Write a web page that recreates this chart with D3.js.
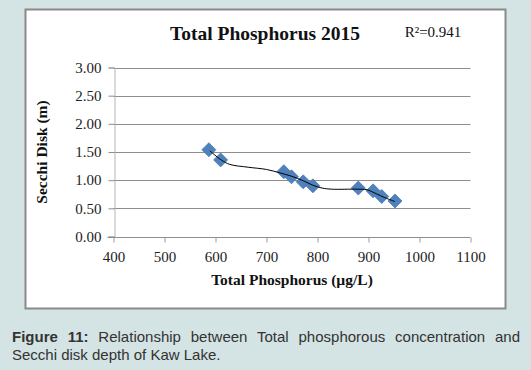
<!DOCTYPE html>
<html><head><meta charset="utf-8">
<script src="https://cdn.jsdelivr.net/npm/d3@7"></script>
<style>
html,body{margin:0;padding:0;background:#d4e3e3;}
#wrap{position:relative;width:531px;height:370px;overflow:hidden;}
.cap{position:absolute;left:12px;width:508px;font-family:"Liberation Sans",Arial,sans-serif;font-size:15px;line-height:17px;color:#333;white-space:nowrap;}
#cap1{top:328px;text-align:justify;text-align-last:justify;white-space:normal;}
#cap2{top:346px;text-align:left;}
.cap b{font-weight:bold;}
</style></head>
<body><div id="wrap"><svg id="chart" width="531" height="370"></svg>
<div class="cap" id="cap1"><b>Figure 11:</b> Relationship between Total phosphorous concentration and</div>
<div class="cap" id="cap2">Secchi disk depth of Kaw Lake.</div></div>
<script>
const tpValues = [587, 610, 734, 749, 772, 791, 880, 909, 926, 952];
const secchiValues = [1.54, 1.36, 1.15, 1.06, 0.97, 0.90, 0.86, 0.81, 0.71, 0.63];
const trendX = [589, 611, 628, 664, 700, 726, 749, 772, 791, 809, 828, 879, 897, 915, 932, 952];
const trendY = [1.52, 1.36, 1.28, 1.23, 1.19, 1.13, 1.07, 0.99, 0.91, 0.86, 0.84, 0.84, 0.83, 0.76, 0.69, 0.62];
const xTicks = [400, 500, 600, 700, 800, 900, 1000, 1100];
const yTicks = [0, 0.5, 1.0, 1.5, 2.0, 2.5, 3.0];
const title = "Total Phosphorus 2015";
const rLabel = "R²=0.941";
const xTitle = "Total Phosphorus (µg/L)";
const yTitle = "Secchi Disk (m)";

const svg = d3.select("#chart");
svg.append("rect").attr("width",531).attr("height",370).attr("fill","#d4e3e3");
svg.append("rect").attr("x",25.5).attr("y",9.5).attr("width",480).attr("height",299)
  .attr("fill","#fff").attr("stroke","#8a8a8a").attr("stroke-width",2);

const x = d3.scaleLinear().domain([400,1100]).range([113.5,470.5]);
const y = d3.scaleLinear().domain([0,3]).range([236.5,67.5]);
const serif = "'Liberation Serif','Times New Roman',serif";

// gridlines
svg.append("g").selectAll("line").data(yTicks.filter(d=>d>0)).join("line")
  .attr("x1",x(400)).attr("x2",x(1100))
  .attr("y1",d=>Math.round(y(d))+0.5).attr("y2",d=>Math.round(y(d))+0.5)
  .attr("stroke","#8e8e8e").attr("stroke-width",1);

// y axis
const yAxis = svg.append("g").attr("transform",`translate(${Math.round(x(400))+0.5},0)`)
  .call(d3.axisLeft(y).tickValues(yTicks).tickFormat(d3.format(".2f")).tickSize(6).tickPadding(7));
yAxis.select(".domain").attr("stroke","#b5b5b5");
yAxis.selectAll(".tick line").attr("stroke","#8e8e8e");
yAxis.selectAll("text").attr("font-family",serif).attr("font-size",15).attr("fill","#222");

// x axis
const xAxis = svg.append("g").attr("transform",`translate(0,${Math.round(y(0))+0.5})`)
  .call(d3.axisBottom(x).tickValues(xTicks).tickFormat(d3.format("d")).tickSize(5).tickPadding(9));
xAxis.select(".domain").attr("stroke","#8e8e8e").attr("d",`M${x(400)-6},0H${x(1100)}`);
xAxis.selectAll(".tick line").attr("stroke","#9a9a9a");
xAxis.selectAll("text").attr("font-family",serif).attr("font-size",15).attr("fill","#222");

// markers
const pts = tpValues.map((v,i)=>({x:v,y:secchiValues[i]}));
svg.append("g").selectAll("path").data(pts).join("path")
  .attr("transform",d=>`translate(${x(d.x)},${y(d.y)})`)
  .attr("d","M0,-7L7,0L0,7L-7,0Z")
  .attr("fill","#4f81bd").attr("stroke","#4a7ab3").attr("stroke-width",0.8);

// trend line
const trend = trendX.map((v,i)=>[x(v),y(trendY[i])]);
svg.append("path").attr("d",d3.line().curve(d3.curveCatmullRom)(trend))
  .attr("fill","none").attr("stroke","#000").attr("stroke-width",1);

// titles
svg.append("text").attr("x",265).attr("y",40).attr("text-anchor","middle")
  .attr("font-family",serif).attr("font-weight","bold").attr("font-size",19.5).attr("fill","#111").text(title);
svg.append("text").attr("x",433).attr("y",37).attr("text-anchor","middle")
  .attr("font-family",serif).attr("font-size",15).attr("fill","#111").text(rLabel);
svg.append("text").attr("x",292).attr("y",285).attr("text-anchor","middle")
  .attr("font-family",serif).attr("font-weight","bold").attr("font-size",15.5).attr("fill","#111").text(xTitle);
svg.append("text").attr("transform","translate(47,152) rotate(-90)").attr("text-anchor","middle")
  .attr("font-family",serif).attr("font-weight","bold").attr("font-size",15.5).attr("fill","#111").text(yTitle);
</script></body></html>
